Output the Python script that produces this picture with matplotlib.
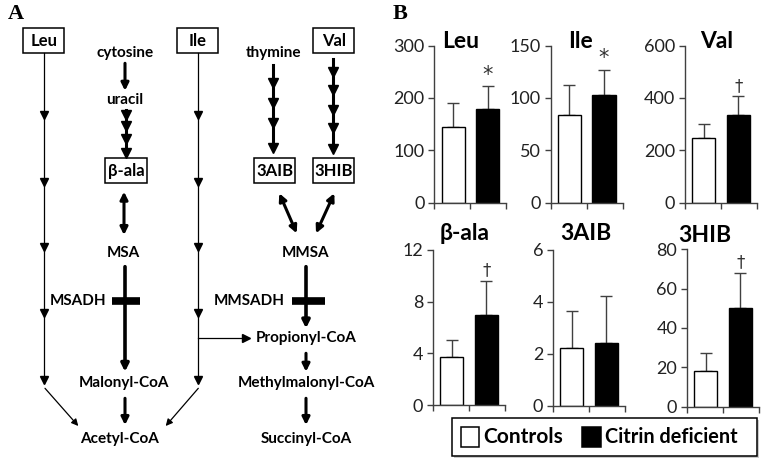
import numpy as np
import matplotlib
matplotlib.use("Agg")
import matplotlib.pyplot as plt
from matplotlib.patches import Rectangle

plt.rcParams['font.family'] = ['Lato', 'DejaVu Sans']

# panel B data
metabolites = ['Leu', 'Ile', 'Val', 'β-ala', '3AIB', '3HIB']
controls = [145, 84, 247, 3.7, 2.2, 18]
controls_sd = [46, 28, 53, 1.3, 1.45, 9.4]
citrin = [178, 103, 335, 7.0, 2.43, 50]
citrin_sd = [45, 24, 71, 2.6, 1.8, 18]
ymax = [300, 150, 600, 12, 6, 80]
ystep = [100, 50, 200, 4, 2, 20]
marks = ['*', '*', '†', '†', '', '†']
groups = ['Controls', 'Citrin deficient']

W, H = 767, 466
fig = plt.figure(figsize=(W / 100, H / 100), dpi=100)

# overlay axes in pixel coordinates for panel A
dg = fig.add_axes([0, 0, 1, 1])
dg.set_xlim(0, W)
dg.set_ylim(H, 0)
dg.axis('off')

fs = 11
tfont = dict(fontsize=fs, fontweight='bold', ha='center', va='center')

def box(x0, x1, y0, y1, label):
    dg.add_patch(Rectangle((x0, y0), x1 - x0, y1 - y0, fill=False, lw=1.1, ec='k'))
    dg.text((x0 + x1) / 2, (y0 + y1) / 2, label, fontsize=12, fontweight='bold',
            ha='center', va='center')

def thin(x, y0, y1, heads):
    dg.plot([x, x], [y0, y1], color='k', lw=0.9)
    dg.plot([x] * len(heads), heads, 'v', color='k', ms=6)

def thick(x0, y0, x1, y1, style='-|>', lw=2.2):
    dg.annotate('', xy=(x1, y1), xytext=(x0, y0),
                arrowprops=dict(arrowstyle=style, lw=lw, color='k',
                                mutation_scale=11, shrinkA=0, shrinkB=0))

def chain(x, y0, y1, heads):
    dg.plot([x, x], [y0, y1 - 4], color='k', lw=2.2)
    dg.plot([x] * len(heads), heads, 'v', color='k', ms=7)

# boxes
box(23.3, 64, 28.3, 53.3, 'Leu')
box(176.7, 218.3, 28.3, 53.3, 'Ile')
box(313.3, 354.3, 28.3, 53.3, 'Val')
box(105, 146.7, 158.3, 183.3, 'β-ala')
box(254.3, 295, 158.3, 183.3, '3AIB')
box(313.3, 354.3, 158.3, 183.3, '3HIB')

# Leu / Ile long pathways
lh = [115, 182, 246.7, 313.3, 380]
thin(43.7, 53.3, 383, lh)
thin(198, 53.3, 383, lh)
dg.plot([198, 245], [337.7, 337.7], color='k', lw=0.9)
dg.plot([246], [337.7], '>', color='k', ms=6)
dg.annotate('', xy=(78.3, 426), xytext=(45, 388.3),
            arrowprops=dict(arrowstyle='-|>', lw=0.9, color='k', mutation_scale=10, shrinkA=0, shrinkB=0))
dg.annotate('', xy=(165.7, 426), xytext=(198.3, 388.3),
            arrowprops=dict(arrowstyle='-|>', lw=0.9, color='k', mutation_scale=10, shrinkA=0, shrinkB=0))

# pyrimidine side
dg.text(125, 53.3, 'cytosine', **tfont)
thick(125, 63.3, 125, 90.7)
dg.text(125, 100, 'uracil', **tfont)
chain(126, 110, 157, [115, 126, 139, 153])
thick(124, 191.7, 124, 235, style='<|-|>')
dg.text(123, 252.7, 'MSA', **tfont)
thick(125, 266.7, 125, 371.7, lw=2.6)
dg.plot([111.7, 140], [301, 301], color='k', lw=5.5, solid_capstyle='butt')
dg.text(106.7, 301, 'MSADH', fontsize=fs, fontweight='bold', ha='right', va='center')
dg.text(124, 383.3, 'Malonyl-CoA', **tfont)
thick(125, 398.3, 125, 425)
dg.text(120, 439.3, 'Acetyl-CoA', **tfont)

dg.text(274, 53.3, 'thymine', **tfont)
chain(273.3, 65, 151, [82.7, 103.3, 123.3, 147.5])
chain(333.3, 59.3, 151, [71.7, 90, 110, 128.3, 148.5])
thick(279.3, 193.3, 296.7, 233.3, style='<|-|>')
thick(334.3, 193.3, 316, 233.3, style='<|-|>')
dg.text(306, 252.7, 'MMSA', **tfont)
thick(306, 266.7, 306, 328.3, lw=2.6)
dg.plot([291.7, 325], [301, 301], color='k', lw=5.5, solid_capstyle='butt')
dg.text(285, 301, 'MMSADH', fontsize=fs, fontweight='bold', ha='right', va='center')
dg.text(306, 337.7, 'Propionyl-CoA', **tfont)
thick(306, 353.3, 306, 371.7)
dg.text(306, 383.3, 'Methylmalonyl-CoA', **tfont)
thick(306, 398.3, 306, 425)
dg.text(306, 439.3, 'Succinyl-CoA', **tfont)

dg.text(8, 14, 'A', fontsize=16, fontweight='bold', family='Liberation Serif', va='center')
dg.text(393, 14, 'B', fontsize=16, fontweight='bold', family='Liberation Serif', va='center')

# panel B bar charts
lefts = [434.3, 550.7, 685, 433, 553, 687]
tops = [45.7, 45.7, 45.7, 250, 250, 249.3]
bots = [202.5, 202.5, 202.5, 405, 405.5, 406.7]
title_x = [0.37, 0.41, 0.44, 0.44, 0.45, 0.25]
title_y = [1.025, 1.025, 1.025, 1.108, 1.108, 1.09]
aw = 72
gray = '#404040'

for i, name in enumerate(metabolites):
    ax = fig.add_axes([lefts[i] / W, 1 - bots[i] / H, aw / W, (bots[i] - tops[i]) / H])
    ax.patch.set_alpha(0)
    vals = [controls[i], citrin[i]]
    sds = [controls_sd[i], citrin_sd[i]]
    ax.bar([0.52, 1.48], vals, width=0.64, color=['white', 'black'], edgecolor='black', lw=1.0, zorder=2)
    ax.errorbar([0.52, 1.48], vals, yerr=[[0, 0], sds], fmt='none', ecolor=gray,
                elinewidth=1.0, capsize=4, capthick=1.0, zorder=1)
    if marks[i]:
        ax.annotate(marks[i], (1.48, citrin[i] + citrin_sd[i]), xytext=(0, 1),
                    textcoords='offset points', ha='center', va='bottom',
                    fontsize=15 if marks[i] == '*' else 12, family='DejaVu Sans', color='#333333')
    ax.set_xlim(0, 2)
    ax.set_ylim(0, ymax[i])
    ax.set_yticks(np.arange(0, ymax[i] + 1e-9, ystep[i]))
    ax.set_xticks([0, 1, 2])
    ax.set_xticklabels([])
    for s in ['top', 'right']:
        ax.spines[s].set_visible(False)
    for s in ['left', 'bottom']:
        ax.spines[s].set_color(gray)
        ax.spines[s].set_linewidth(1.0)
    ax.tick_params(colors=gray, labelcolor='#222222', labelsize=13, length=4, width=1.0, pad=3)
    ax.set_title(name, x=title_x[i], y=title_y[i], pad=0, fontsize=16.5, fontweight='bold', va='center')

# legend box
dg.add_patch(Rectangle((454, 420), 305, 38, fc='#cccccc', ec='none'))
dg.add_patch(Rectangle((451.7, 418), 305, 38, fc='white', ec='k', lw=1.1))
dg.add_patch(Rectangle((461, 426.7), 18, 20.3, fc='white', ec='k', lw=1.1))
dg.text(483, 437, groups[0], fontsize=15, fontweight='bold', va='center')
dg.add_patch(Rectangle((581.7, 426.7), 19, 20.3, fc='black', ec='k', lw=1.1))
dg.text(605, 437, groups[1], fontsize=14.3, fontweight='bold', va='center')

fig.savefig('out.png', dpi=100)
